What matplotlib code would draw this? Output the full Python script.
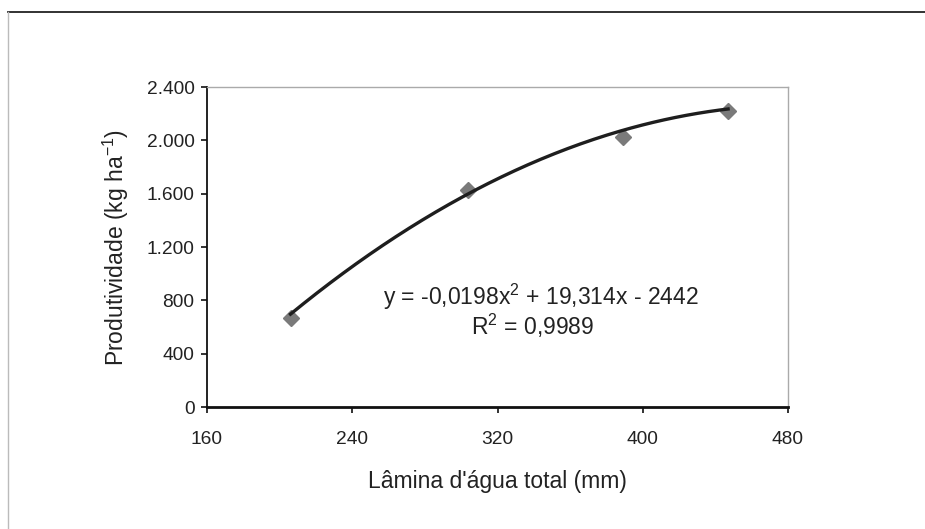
import numpy as np
import matplotlib
matplotlib.use("Agg")
import matplotlib.pyplot as plt
from matplotlib.lines import Line2D

# Data
lamina = [206, 304, 389, 447]          # mm
produtividade = [667, 1627, 2025, 2220]  # kg/ha
coef = [-0.0198, 19.314, -2442]         # fitted quadratic (from chart label)
x_ticks = [160, 240, 320, 400, 480]
y_ticks = [0, 400, 800, 1200, 1600, 2000, 2400]
y_tick_labels = ["0", "400", "800", "1.200", "1.600", "2.000", "2.400"]

plt.rcParams['font.family'] = ['Liberation Sans', 'DejaVu Sans']
plt.rcParams['mathtext.fontset'] = 'custom'
plt.rcParams['mathtext.rm'] = 'Liberation Sans'
plt.rcParams['mathtext.it'] = 'Liberation Sans'
plt.rcParams['mathtext.default'] = 'regular'

fig = plt.figure(figsize=(9.25, 5.29), dpi=100)
ax = fig.add_axes([207/925, 1-407/529, (788-207)/925, (407-87)/529])

# frame of the figure (scanned page box)
fig.add_artist(Line2D([8/925, 1], [1-12/529, 1-12/529], transform=fig.transFigure,
                      color='#222222', lw=1.3))
fig.add_artist(Line2D([8/925, 8/925], [0, 1-12/529], transform=fig.transFigure,
                      color='#bbbbbb', lw=1.0))

xs = np.linspace(min(lamina), max(lamina), 200)
ys = np.polyval(coef, xs)
ax.plot(lamina, produtividade, linestyle='none', marker='D', markersize=8,
        color='#7a7a7a', zorder=2)
ax.plot(xs, ys, color='#1e1e1e', lw=2.4, zorder=3)

ax.set_xlim(160, 480)
ax.set_ylim(0, 2400)
ax.set_xticks(x_ticks)
ax.set_yticks(y_ticks)
ax.set_yticklabels(y_tick_labels)

for s in ['top', 'right']:
    ax.spines[s].set_color('#aaaaaa')
    ax.spines[s].set_linestyle((0, (1, 1)))
    ax.spines[s].set_linewidth(1.0)
ax.spines['left'].set_color('#111111')
ax.spines['left'].set_linewidth(1.3)
ax.spines['bottom'].set_color('#111111')
ax.spines['bottom'].set_linewidth(2.0)

ax.tick_params(axis='both', direction='out', length=4, width=1.2, colors='#111111',
               labelsize=13.8, labelcolor='#222222')
ax.tick_params(axis='x', pad=13)
ax.tick_params(axis='y', pad=5)

ax.set_xlabel("Lâmina d'água total (mm)", fontsize=16.5, color='#222222', labelpad=16)
ax.set_ylabel("Produtividade (kg ha$^{-1}$)", fontsize=16.5, color='#222222', labelpad=11)

ax.text(0.575, 0.344, "y = -0,0198x$^2$ + 19,314x - 2442", transform=ax.transAxes,
        ha='center', va='center', fontsize=16.5, color='#222222')
ax.text(0.56, 0.253, "R$^2$ = 0,9989", transform=ax.transAxes,
        ha='center', va='center', fontsize=16.5, color='#222222')

fig.savefig("out.png", dpi=100, facecolor='white')
